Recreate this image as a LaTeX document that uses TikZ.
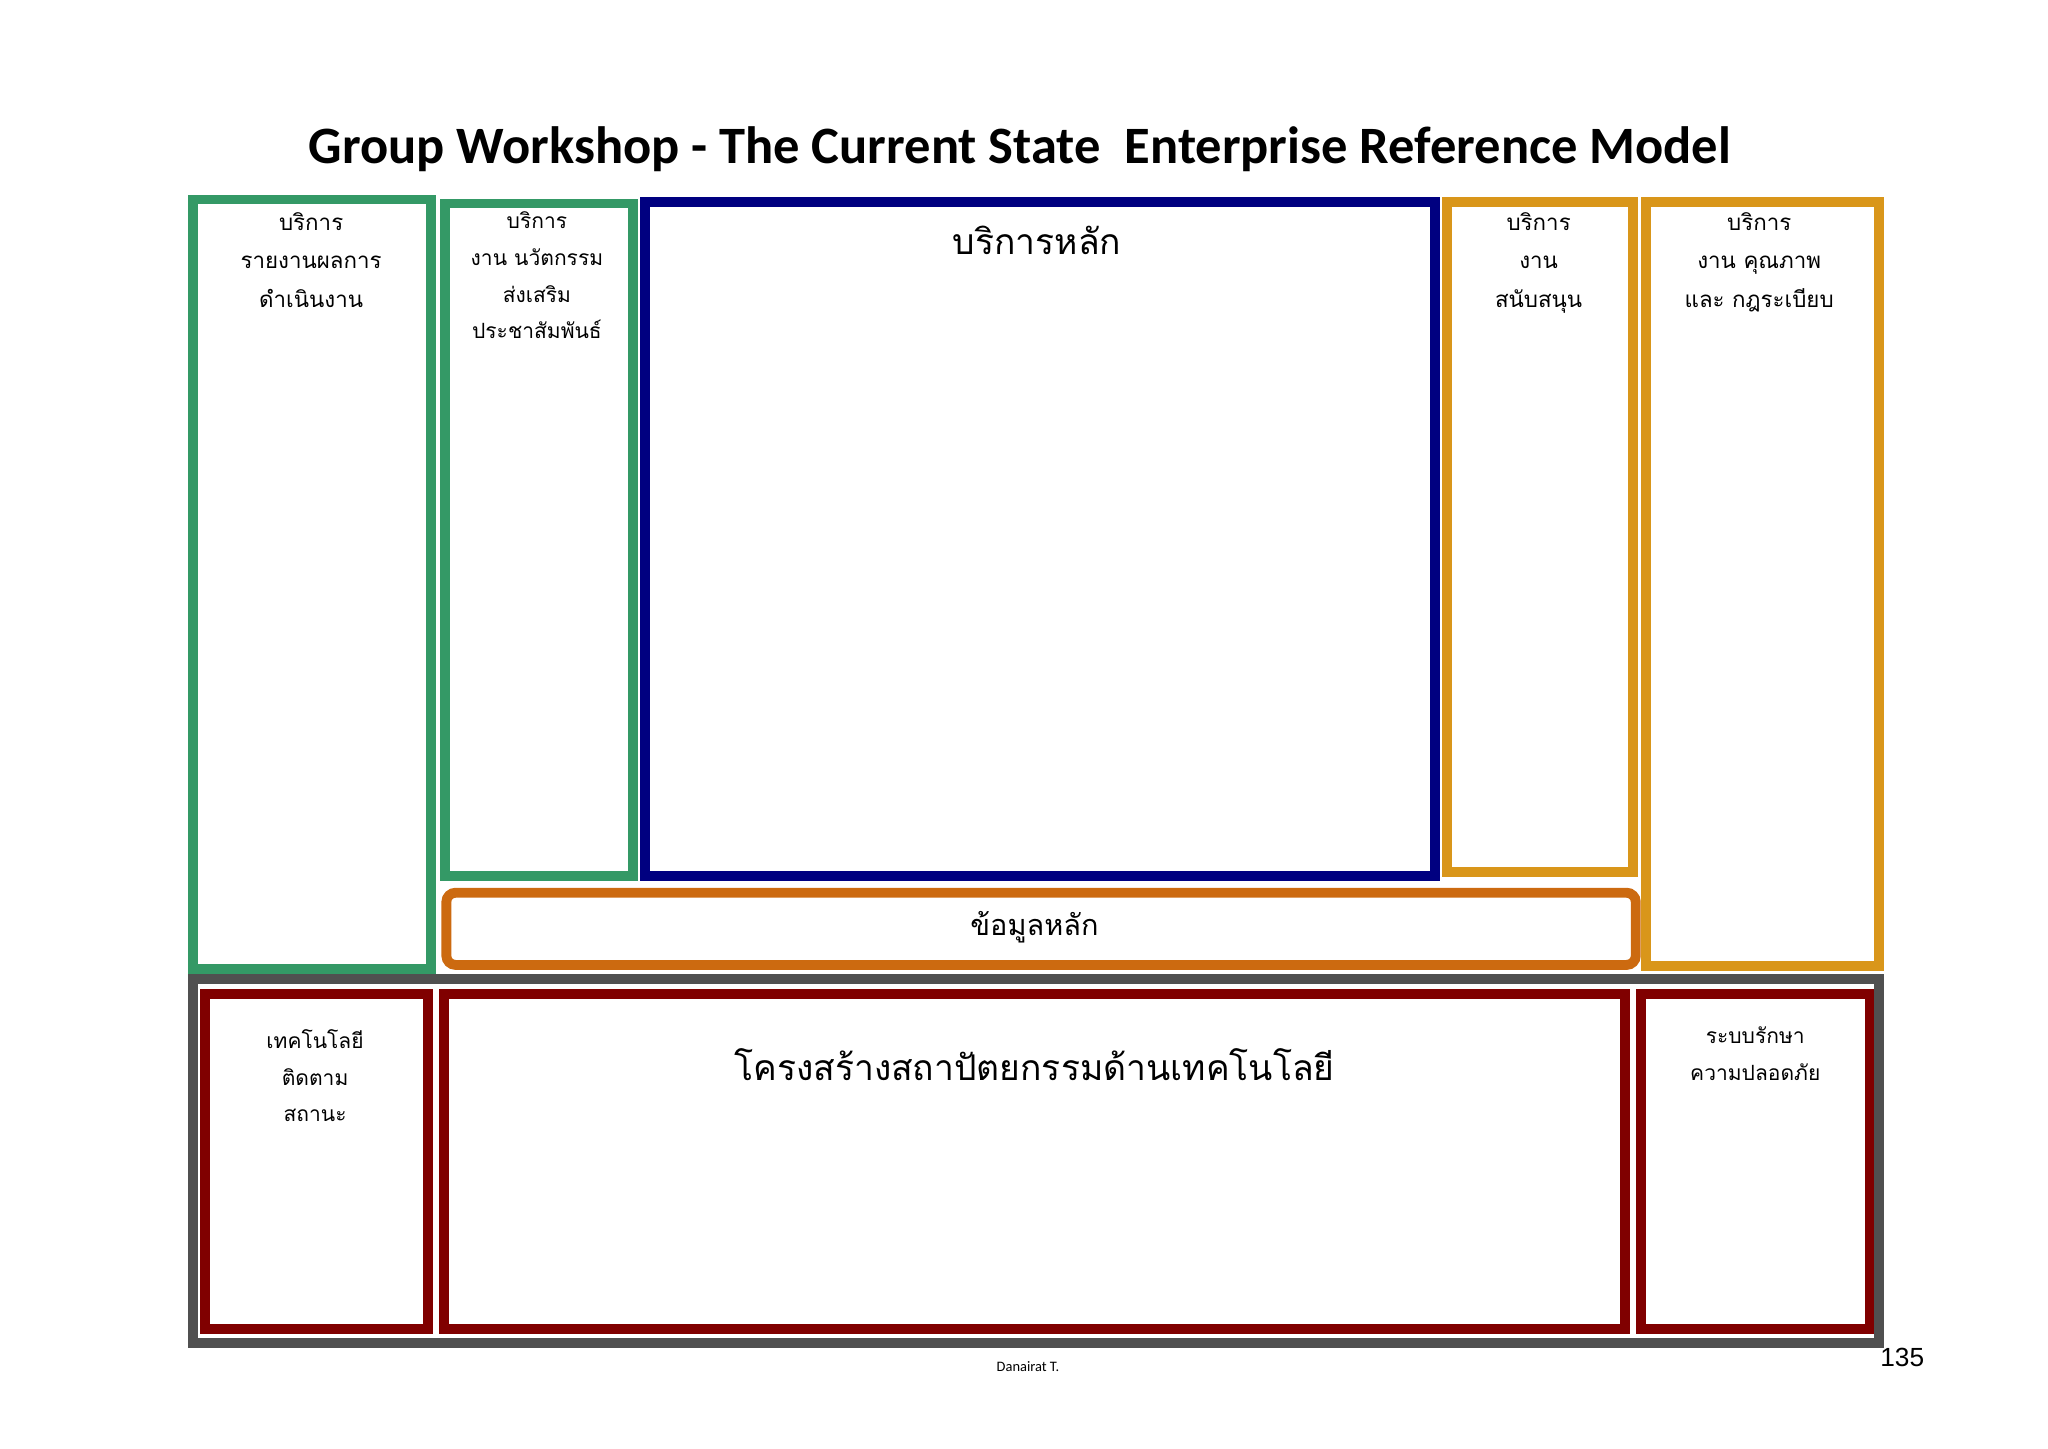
\documentclass[tikz,border=0pt]{standalone}
\usepackage{fontspec}
\setmainfont{Carlito}
\newfontfamily\thai[Script=Thai]{Loma}
\newfontfamily\arialf{Liberation Sans}
\definecolor{cgreen}{HTML}{349966}
\definecolor{cblue}{HTML}{000080}
\definecolor{corange}{HTML}{D9961A}
\definecolor{cdata}{HTML}{CC6A10}
\definecolor{cred}{HTML}{800000}
\definecolor{cgray}{HTML}{505050}
\begin{document}
\begin{tikzpicture}[x=1pt,y=-1pt,
  frame/.style={line width=7.5pt},
  lbl/.style={font=\thai\fontsize{17}{29}\selectfont,align=center,inner sep=0pt},
  big/.style={font=\thai\fontsize{27}{32}\selectfont,inner sep=0pt}]
\useasboundingbox (0,0) rectangle (1560,1103);
\node[font=\bfseries\fontsize{40}{44}\selectfont] (title) at (777,114) {Group Workshop - The Current State\ \ Enterprise Reference Model};
% top boxes
\draw[frame,cgreen] (147,152) rectangle (328,738);
\draw[frame,cgreen] (339,155) rectangle (482,667);
\draw[frame,cblue] (491,154) rectangle (1093,667);
\draw[frame,corange] (1102,154) rectangle (1244,664);
\draw[frame,corange] (1254,154) rectangle (1431,736);
\draw[frame,cdata,rounded corners=7pt] (340,680) rectangle (1246,735);
% bottom
\draw[frame,cgray] (147,746) rectangle (1431,1023);
\draw[white,line width=1pt] (151,750) rectangle (331,1018);
\draw[frame,cred] (156,757) rectangle (326,1012);
\draw[frame,cred] (338,757) rectangle (1238,1012);
\draw[frame,cred] (1250,757) rectangle (1424,1012);
% texts
\node[lbl,anchor=north] (g1) at (237,162) {บริการ\\รายงานผลการ\\ดำเนินงาน};
\node[lbl,anchor=north,font=\thai\fontsize{16}{28}\selectfont] (g2) at (409,161) {บริการ\\งาน นวัตกรรม\\ส่งเสริม\\ประชาสัมพันธ์};
\node[big] (core) at (790,183) {บริการหลัก};
\node[lbl,anchor=north] (o1) at (1172,162) {บริการ\\งาน\\สนับสนุน};
\node[lbl,anchor=north] (o2) at (1340,162) {บริการ\\งาน คุณภาพ\\และ กฎระเบียบ};
\node[font=\thai\fontsize{22}{26}\selectfont] (data) at (788,706) {ข้อมูลหลัก};
\node[lbl,anchor=north,font=\thai\fontsize{16}{28}\selectfont] (b1) at (240,784) {เทคโนโลยี\\ติดตาม\\สถานะ};
\node[big] (b2) at (788,811) {โครงสร้างสถาปัตยกรรมด้านเทคโนโลยี};
\node[lbl,anchor=north,font=\thai\fontsize{16}{28}\selectfont] (b3) at (1337,782) {ระบบรักษา\\ความปลอดภัย};
\node[font=\fontsize{11}{13}\selectfont] (auth) at (783,1041) {Danairat T.};
\node[font=\arialf\fontsize{20}{24}\selectfont] (pg) at (1449,1034) {135};
\end{tikzpicture}
\end{document}
